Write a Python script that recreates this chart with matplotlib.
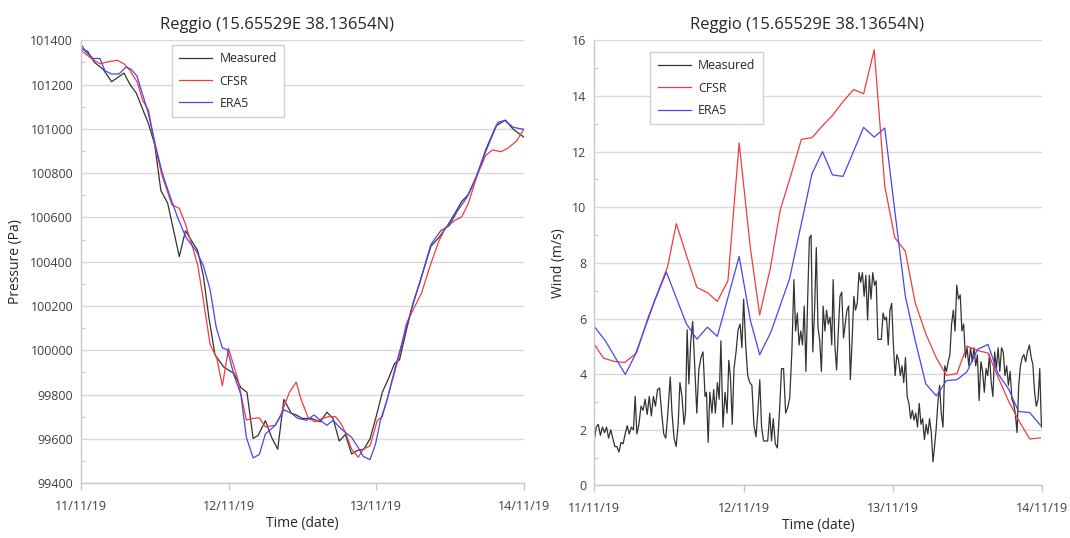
import numpy as np
import pandas as pd
import matplotlib
matplotlib.use('Agg')
import matplotlib.pyplot as plt
import matplotlib.dates as mdates
from matplotlib.ticker import MultipleLocator

plt.rcParams['font.family'] = ['Open Sans', 'DejaVu Sans']

station = 'Reggio (15.65529E 38.13654N)'
start = pd.Timestamp('2019-11-11')

# pressure (Pa), times in hours from 11/11/19 00:00
p_meas_h = [0, 1.1, 2.2, 3.6, 5, 7, 8, 9, 11, 12, 13, 14.1, 16, 17, 19, 19.9, 20.8, 21.8, 23.2, 24.9,
            26, 27, 28, 28.8, 30, 31, 32, 33, 34.2, 35, 36, 37.5, 38.9, 40, 41, 42, 43, 44, 45, 46,
            47, 48, 49, 50, 51, 51.8, 52.9, 54, 55.1, 56.9, 58.2, 59.6, 60.8, 61.9, 63, 64.4, 65.8, 67.5, 69, 70.3, 72]
p_meas = [101364, 101350, 101300, 101270, 101213, 101252, 101200, 101162, 101022, 100930,
          100722, 100665, 100423, 100540, 100450, 100338, 100150, 99980, 99925, 99895,
          99832, 99810, 99602, 99615, 99682, 99607, 99553, 99778, 99716, 99708,
          99692, 99692, 99677, 99720, 99692, 99590, 99620, 99532, 99548, 99553,
          99600, 99700, 99810, 99872, 99941, 99957, 100089, 100213, 100307, 100470,
          100509, 100563, 100618, 100672, 100703, 100789, 100905, 101014, 101040, 100998, 100963]

p_cfsr_h = [0, 1.7, 3.1, 4.2, 5.9, 7, 8, 9.2, 10, 11, 12, 13.2, 14.8, 16, 17, 18.2, 19, 19.9, 21, 22.1,
            23, 24, 25.5, 26.9, 27.8, 29, 30, 31.6, 32.5, 33.9, 35, 35.8, 37, 38.1, 39.2, 40.3, 41.4, 42.3, 43.1, 44,
            45.1, 45.9, 47, 48.2, 49, 50.1, 51.8, 52.9, 54, 55.4, 56.8, 58.2, 59.3, 60.8, 61.9, 63, 64.4, 65.8, 66.9, 68.3,
            69.4, 70.8, 72]
p_cfsr = [101356, 101318, 101294, 101302, 101310, 101294, 101263, 101209, 101131, 101084,
          100930, 100789, 100657, 100641, 100570, 100462, 100384, 100229, 100027, 99964,
          99840, 100008, 99871, 99685, 99692, 99695, 99654, 99661, 99708, 99810,
          99856, 99778, 99692, 99677, 99692, 99700, 99700, 99669, 99622, 99553,
          99517, 99553, 99568, 99684, 99700, 99810, 99980, 100120, 100182, 100260,
          100384, 100493, 100555, 100587, 100602, 100664, 100789, 100880, 100905, 100897,
          100913, 100944, 100998]

p_era5_h = [0, 0.8, 2, 3.1, 3.9, 5, 6.2, 7.3, 8.1, 9.1, 10.9, 12.3, 13.2, 14.3, 15.7, 17.1, 18.8, 19.9, 21, 22,
            23, 23.8, 24.9, 26, 26.9, 28, 29, 30, 31.6, 33, 34.2, 35.3, 36.7, 37.9, 38.9, 40, 41, 42.3, 44, 45.1,
            45.9, 47, 47.9, 48.7, 49.8, 51.2, 52.3, 53.7, 55.1, 56.9, 58.5, 59.9, 61.3, 62.7, 64.1, 65.8, 67.8, 68.9, 70.3, 72]
p_era5 = [101383, 101349, 101318, 101318, 101263, 101248, 101248, 101279, 101271, 101240,
          101077, 100906, 100804, 100711, 100602, 100509, 100447, 100384, 100275, 100104,
          100011, 100003, 99887, 99801, 99607, 99514, 99529, 99622, 99661, 99731,
          99716, 99692, 99684, 99708, 99684, 99661, 99684, 99645, 99607, 99560,
          99521, 99506, 99576, 99684, 99778, 99933, 100042, 100182, 100307, 100478,
          100540, 100563, 100633, 100688, 100773, 100897, 101030, 101038, 101007, 100998]

# wind speed (m/s)
w_meas_h = [0.0, 0.33, 0.66, 1.0, 1.33, 1.66, 1.99, 2.32, 2.66, 2.99,
            3.32, 3.65, 3.98, 4.32, 4.65, 4.98, 5.31, 5.64, 5.98, 6.31,
            6.59, 6.86, 7.19, 7.53, 7.86, 8.19, 8.52, 8.85, 9.19, 9.52,
            9.85, 10.18, 10.51, 10.85, 11.18, 11.51, 11.84, 12.23, 12.51, 12.84,
            13.17, 13.5, 13.78, 14.11, 14.44, 14.67, 14.94, 15.22, 15.5, 15.83,
            16.16, 16.49, 16.82, 17.16, 17.49, 17.82, 18.04, 18.32, 18.59, 18.93,
            19.2, 19.48, 19.81, 20.09, 20.37, 20.7, 21.03, 21.36, 21.64, 21.91,
            22.19, 22.47, 22.8, 23.13, 23.46, 23.74, 24.02, 24.35, 24.68, 25.01,
            25.35, 25.68, 26.01, 26.29, 26.62, 26.9, 27.23, 27.56, 27.89, 28.22,
            28.5, 28.78, 29.11, 29.44, 29.77, 30.11, 30.44, 30.77, 31.1, 31.43,
            31.77, 32.1, 32.37, 32.65, 32.93, 33.2, 33.48, 33.76, 34.03, 34.31,
            34.59, 34.86, 35.14, 35.42, 35.7, 35.97, 36.25, 36.52, 36.8, 37.08,
            37.35, 37.63, 37.91, 38.18, 38.41, 38.68, 38.96, 39.24, 39.51, 39.79,
            40.07, 40.34, 40.62, 40.9, 41.17, 41.45, 41.73, 42.0, 42.28, 42.56,
            42.83, 43.11, 43.39, 43.66, 43.94, 44.22, 44.49, 44.77, 45.05, 45.32,
            45.6, 45.88, 46.15, 46.43, 46.71, 46.98, 47.26, 47.54, 47.81, 48.09,
            48.37, 48.64, 48.92, 49.2, 49.47, 49.75, 50.03, 50.3, 50.58, 50.86,
            51.13, 51.41, 51.69, 51.96, 52.24, 52.52, 52.79, 53.07, 53.35, 53.62,
            53.9, 54.18, 54.45, 54.68, 54.95, 55.23, 55.51, 55.78, 56.06, 56.34,
            56.61, 56.89, 57.17, 57.44, 57.72, 58.0, 58.27, 58.55, 58.83, 59.1,
            59.38, 59.66, 59.93, 60.21, 60.49, 60.76, 61.04, 61.32, 61.59, 61.87,
            62.15, 62.42, 62.7, 62.98, 63.25, 63.53, 63.81, 64.08, 64.36, 64.64,
            64.91, 65.19, 65.47, 65.74, 66.02, 66.3, 66.57, 66.85, 67.13, 67.4,
            67.68, 67.96, 68.23, 68.51, 68.79, 69.06, 69.34, 69.62, 69.95, 70.23,
            70.5, 70.78, 71.06, 71.34, 71.61, 71.88]
w_meas = [1.6, 2.1, 2.2, 1.8, 2.1, 1.9, 2.1, 1.7, 2.0, 1.7,
          1.4, 1.4, 1.2, 1.55, 1.5, 1.85, 2.15, 1.85, 2.1, 2.0,
          3.2, 1.85, 2.2, 2.85, 2.7, 3.1, 2.55, 3.2, 2.5, 3.2,
          2.85, 3.45, 3.5, 2.6, 1.85, 1.7, 2.6, 3.9, 2.6, 1.7,
          1.4, 2.2, 3.7, 3.2, 2.2, 2.6, 5.6, 3.65, 5.1, 5.9,
          4.3, 2.6, 4.15, 4.6, 4.8, 3.2, 3.35, 1.55, 3.35, 2.6,
          3.45, 2.6, 3.7, 3.1, 5.2, 2.1, 3.35, 2.6, 4.5, 3.85,
          2.2, 4.2, 4.8, 5.6, 5.8, 4.95, 6.7, 5.05, 3.95, 3.7,
          3.6, 2.15, 1.75, 2.6, 3.8, 2.1, 1.6, 1.6, 1.6, 2.6,
          1.6, 2.4, 1.5, 1.35, 2.6, 4.2, 4.2, 2.6, 2.8, 3.15,
          4.8, 7.4, 5.55, 6.2, 5.05, 5.55, 5.05, 6.45, 4.1, 6.7,
          8.9, 9.0, 4.8, 6.3, 8.55, 5.7, 5.2, 4.1, 6.45, 5.55,
          6.3, 5.8, 6.05, 5.05, 7.4, 5.05, 4.15, 5.55, 6.8, 6.95,
          5.3, 5.8, 6.3, 6.45, 3.8, 5.2, 6.8, 6.3, 6.55, 7.65,
          7.3, 7.65, 6.8, 7.55, 5.95, 7.55, 6.7, 7.65, 7.2, 7.35,
          5.25, 5.25, 5.25, 6.2, 5.95, 6.05, 5.05, 6.3, 6.55, 5.05,
          3.95, 4.7, 4.5, 3.95, 4.3, 3.7, 4.6, 3.2, 2.95, 2.4,
          2.7, 2.35, 2.6, 2.1, 2.95, 2.2, 2.4, 1.65, 2.2, 1.85,
          2.4, 1.9, 0.85, 1.35, 2.0, 2.95, 3.6, 2.6, 2.1, 4.3,
          4.1, 4.45, 4.7, 5.8, 6.3, 5.55, 7.2, 6.7, 6.85, 5.55,
          5.8, 4.6, 4.95, 4.3, 4.95, 4.45, 4.95, 4.3, 4.7, 3.05,
          4.45, 4.1, 3.35, 4.2, 3.95, 4.7, 3.7, 3.2, 4.8, 4.2,
          4.95, 4.1, 4.95, 4.8, 3.95, 4.3, 3.6, 4.1, 3.1, 2.95,
          2.6, 1.9, 3.6, 4.3, 4.6, 4.7, 4.45, 4.8, 5.05, 4.6,
          4.35, 3.35, 2.85, 3.1, 4.2, 2.1]

w_cfsr_h = [0, 1.5, 3.2, 4.9, 6.8, 8.7, 11.8, 13.2, 14.8, 16.5, 18.2, 19.8, 21.5, 23.3, 25.1,
            26.6, 28.3, 29.9, 31.6, 33.3, 35, 36.7, 38.3, 40, 41.7, 43.3, 45, 46.7, 48.3, 50,
            51.6, 53.3, 55, 56.6, 58.3, 59.9, 61.6, 63.3, 64.9, 66.6, 68.2, 70, 71.7]
w_cfsr = [5.07, 4.58, 4.46, 4.42, 4.76, 6.06, 7.86, 9.41, 8.29, 7.12, 6.93, 6.62, 7.36, 12.31, 8.54,
          6.13, 7.8, 9.9, 11.14, 12.44, 12.5, 12.93, 13.3, 13.8, 14.23, 14.08, 15.66, 10.77, 8.91, 8.42,
          6.56, 5.45, 4.58, 3.96, 4.02, 5.01, 4.85, 4.76, 3.9, 3.03, 2.35, 1.67, 1.71]

w_era5_h = [0, 1.8, 5, 6.6, 9.8, 11.6, 14.8, 16.5, 18.2, 19.8, 23.3, 25.1, 26.6, 28.4, 31.4,
            35, 36.7, 38.3, 40, 43.3, 45, 46.7, 48.3, 50, 51.6, 53.3, 55, 56.6, 58.3, 59.9,
            61.6, 63.3, 64.9, 66.6, 68.2, 70, 71.7]
w_era5 = [5.72, 5.2, 3.99, 4.7, 6.68, 7.67, 5.82, 5.26, 5.69, 5.36, 8.23, 5.94, 4.7, 5.51, 7.43,
          11.2, 12.0, 11.16, 11.11, 12.87, 12.52, 12.85, 9.9, 6.81, 5.2, 3.65, 3.22, 3.77, 3.8, 4.08,
          4.89, 5.07, 4.02, 3.47, 2.66, 2.62, 2.17]

c_meas, c_cfsr, c_era5 = '#333333', '#f03c3c', '#4646f0'
axis_grey = '#c8c8c8'


def to_time(hours):
    return start + pd.to_timedelta(np.asarray(hours, dtype=float), unit='h')


def style_axes(ax):
    for s in ['top', 'right']:
        ax.spines[s].set_visible(False)
    for s in ['left', 'bottom']:
        ax.spines[s].set_color(axis_grey)
        ax.spines[s].set_linewidth(1)
    ax.grid(axis='y', color='#d9d9d9', linewidth=1)
    ax.set_axisbelow(True)
    ax.xaxis.set_major_locator(mdates.DayLocator())
    ax.xaxis.set_major_formatter(mdates.DateFormatter('%d/%m/%y'))
    ax.set_xlim(start, start + pd.Timedelta(days=3))
    ax.tick_params(axis='x', direction='out', length=5, width=1, color=axis_grey,
                   pad=7, labelsize=9, labelcolor='#404040')
    ax.tick_params(axis='y', which='major', length=0, pad=5.5, labelsize=9, labelcolor='#404040')
    ax.tick_params(axis='y', which='minor', direction='in', length=3, width=1, color=axis_grey)
    ax.set_xlabel('Time (date)', fontsize=10, color='#262626', labelpad=2)


def add_legend(ax, anchor):
    leg = ax.legend(loc='upper left', bbox_to_anchor=anchor, borderaxespad=0, frameon=True,
                    fancybox=False, edgecolor='#d0d0d0', framealpha=1, fontsize=8.8,
                    handlelength=2.68, handletextpad=0.62, borderpad=0.62, labelspacing=0.75)
    leg.get_frame().set_linewidth(1)
    for t in leg.get_texts():
        t.set_color('#262626')


fig = plt.figure(figsize=(10.7, 5.38), dpi=100)

# pressure panel
ax1 = fig.add_axes([0.0756, 0.102, 0.4139, 0.823])
ax1.plot(to_time(p_meas_h), p_meas, color=c_meas, lw=0.9, label='Measured')
ax1.plot(to_time(p_cfsr_h), p_cfsr, color=c_cfsr, lw=0.9, label='CFSR')
ax1.plot(to_time(p_era5_h), p_era5, color=c_era5, lw=0.9, label='ERA5')
ax1.set_ylim(99400, 101400)
ax1.yaxis.set_major_locator(MultipleLocator(200))
ax1.yaxis.set_minor_locator(MultipleLocator(100))
style_axes(ax1)
ax1.set_ylabel('Pressure (Pa)', fontsize=10, color='#262626')
ax1.yaxis.set_label_coords(-0.13, 0.5)
ax1.set_title(station, x=0.442, pad=8, fontsize=12, color='#262626')
add_legend(ax1, (0.2046, 0.9898))

# wind panel
ax2 = fig.add_axes([0.5553, 0.0976, 0.4187, 0.8275])
ax2.plot(to_time(w_meas_h), w_meas, color=c_meas, lw=0.9, label='Measured')
ax2.plot(to_time(w_cfsr_h), w_cfsr, color=c_cfsr, lw=0.9, label='CFSR')
ax2.plot(to_time(w_era5_h), w_era5, color=c_era5, lw=0.9, label='ERA5')
ax2.set_ylim(0, 16)
ax2.yaxis.set_major_locator(MultipleLocator(2))
ax2.yaxis.set_minor_locator(MultipleLocator(1))
style_axes(ax2)
ax2.set_ylabel('Wind (m/s)', fontsize=10, color='#262626')
ax2.yaxis.set_label_coords(-0.063, 0.5)
ax2.set_title(station, x=0.474, pad=8, fontsize=12, color='#262626')
add_legend(ax2, (0.125, 0.974))

fig.savefig('out.png', dpi=100)
